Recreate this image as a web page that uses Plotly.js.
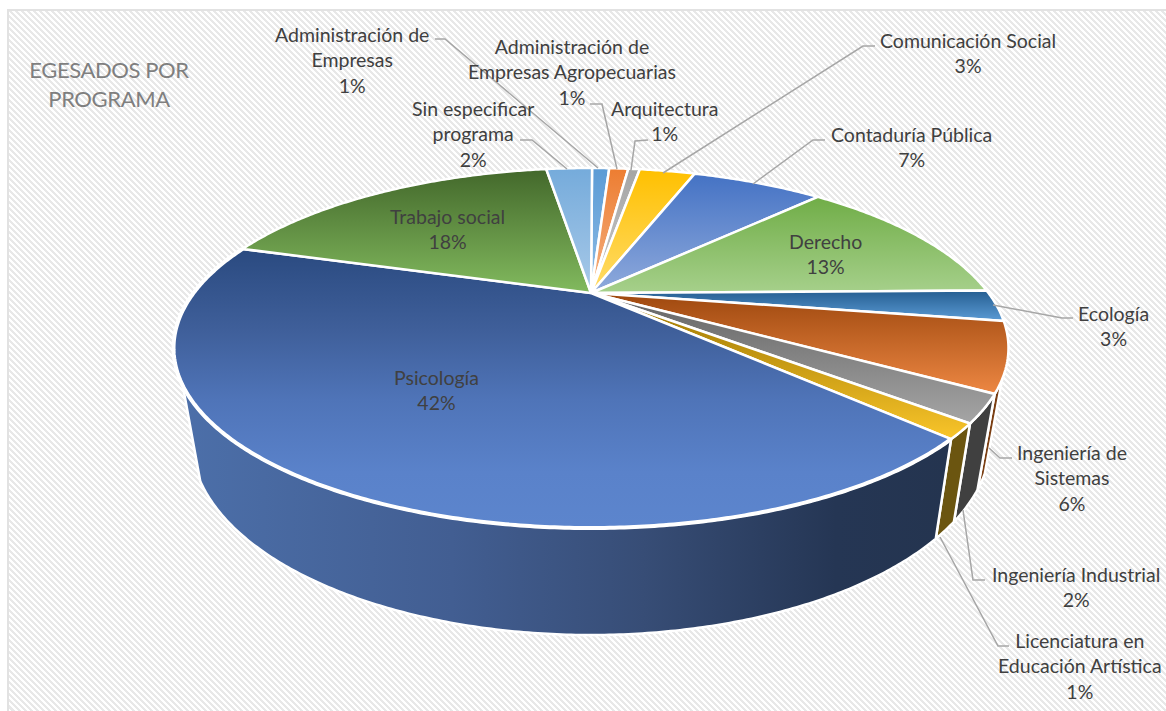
<!DOCTYPE html>
<html>
<head>
<meta charset="utf-8">
<script src="https://cdn.plot.ly/plotly-3.0.1.min.js"></script>
<style>
html,body{margin:0;padding:0;background:#fff;width:1166px;height:711px;overflow:hidden}
#frame{position:absolute;left:7px;top:9px;width:1159px;height:702px;border-left:2px solid #e2e2e2;border-top:2px solid #e2e2e2;box-sizing:border-box;
background:repeating-linear-gradient(45deg,#ffffff 0,#ffffff 2.121px,#e8e8e8 2.121px,#e8e8e8 4.243px)}
#chart{position:absolute;left:0;top:0;width:1166px;height:711px}
.gtitle{letter-spacing:-0.4px}
</style>
</head>
<body>
<div id="frame"></div>
<div id="chart"></div>
<script>
// ---- data (clockwise from the top of the pie) ----
const programas = ["Administración de<br>Empresas","Administración de<br>Empresas Agropecuarias","Arquitectura","Comunicación Social","Contaduría Pública","Derecho","Ecología","Ingeniería de<br>Sistemas","Ingeniería Industrial","Licenciatura en<br>Educación Artística","Psicología","Trabajo social","Sin especificar<br>programa"];
const porcentajes = [0.9,1.0,0.6,2.9,6.8,12.5,2.85,6.1,2.4,1.3,42.35,17.9,2.4];

// ---- style ----
const topFar  = ["#5b9bd5","#ed7d31","#a5a5a5","#ffc000","#4472c4","#70ad47","#255e91","#9e480e","#636363","#997300","#2a4a80","#43682b","#75abdb"];
const topNear = ["#8fbde6","#f4b183","#c9c9c9","#ffdc6a","#8faadc","#a6d08b","#5b9bd5","#ed8743","#a5a5a5","#f9c52a","#5c85cd","#82ba5e","#a8c9e8"];
const wallCol = ["#2e5f8e","#8a4a1c","#636363","#997300","#2a4478","#43682b","#255e91","#7a3e12","#404040","#6b5510","#24344f","#43682b","#5b9bd5"];
const wallScale = [[0,"#4c6fa9"],[0.35,"#425e92"],[0.6,"#374d76"],[0.85,"#253654"],[1,"#24344f"]];
const psicoScale = [[0,"#2a4a80"],[0.29,"#3f5f9a"],[0.54,"#4f74b8"],[0.8,"#5a82ca"],[1,"#5c85cd"]];
const labelX = [352,572,664,968,911,825,1113,1072,1076,1080,436,447,473];
const labelY = [60,72,121,53,147,254,326,478,587,666,390,229,134];
const leaders = [
 [[435,39],[445,39],[598,168]],
 [[590,104],[602,104],[617,169]],
 [[648,140],[635,141],[631,170]],
 [[875,46],[863,46],[663,173]],
 [[825,140],[813,140],[753,184]],
 [[1073,318],[1062,318],[993,305]],
 [[1012,458],[1000,458],[989,448]],
 [[985,580],[973,580],[963,510]],
 [[1009,646],[998,646],[940,537]],
 [[520,140],[532,140],[567,169]]
];

// ---- projection of the tilted disc: top rim (d=0) and bottom rim (d=1) ----
const startAngle = 89.8;
const apex = [591,293], K = 0.3056;
const rimTop = {A:397.5, B:163.2, Y0:0}, rimBottom = {A:380.6, B:150, Y0:-87.5};
const wallFrom = -27, wallTo = -151;   // silhouette of the cylinder
function pt(deg, d){
  const p = d ? rimBottom : rimTop;
  const t = deg*Math.PI/180, u = Math.cos(t), v = Math.sin(t), w = 1 + K*v;
  return [apex[0] + p.A*u/w, apex[1] - (p.Y0 + p.B*v)/w];
}
function arc(a0, a1, d){
  const n = Math.max(2, Math.ceil(Math.abs(a1-a0)/0.5)), out = [];
  for(let i=0;i<=n;i++) out.push(pt(a0+(a1-a0)*i/n, d));
  return out;
}
const total = porcentajes.reduce((s,v)=>s+v,0);
let acc = startAngle;
const spans = porcentajes.map(v=>{const a0=acc; acc-=v/total*360; return [a0,acc];});

function poly(points, extra){
  const xs = points.map(p=>p[0]).concat(points[0][0]);
  const ys = points.map(p=>p[1]).concat(points[0][1]);
  return Object.assign({type:"scatter",mode:"lines",x:xs,y:ys,fill:"toself",
    line:{color:"#ffffff",width:2.5,simplify:false},hoverinfo:"skip",showlegend:false},extra);
}
const traces = [];
const iPsico = programas.indexOf("Psicología");
// side walls of the slices that face the viewer
spans.forEach((s,i)=>{
  const a0 = Math.min(s[0],wallFrom), a1 = Math.max(s[1],wallTo);
  if(a0<=a1) return;
  const pts = arc(a0,a1,0).concat(arc(a1,a0,1));
  if(i===iPsico){
    const xs = pts.map(p=>p[0]);
    traces.push(poly(pts,{fillgradient:{type:"horizontal",colorscale:wallScale,start:Math.min(...xs),stop:Math.max(...xs)}}));
  } else {
    traces.push(poly(pts,{fillcolor:wallCol[i]}));
  }
});
// top faces
spans.forEach((s,i)=>{
  const pts = [apex].concat(arc(s[0],s[1],0));
  const ys = pts.map(p=>p[1]);
  const scale = i===iPsico ? psicoScale : [[0,topFar[i]],[1,topNear[i]]];
  traces.push(poly(pts,{fillgradient:{type:"vertical",colorscale:scale,start:Math.min(...ys),stop:Math.max(...ys)}}));
});
// thick white outer edge of the largest slice
const front = arc(spans[iPsico][0],spans[iPsico][1],0);
traces.push({type:"scatter",mode:"lines",x:front.map(p=>p[0]),y:front.map(p=>p[1]),
  line:{color:"#ffffff",width:4,simplify:false},hoverinfo:"skip",showlegend:false});

const annotations = programas.map((n,i)=>({
  xref:"x",yref:"y",x:labelX[i],y:labelY[i],xanchor:"center",yanchor:"middle",showarrow:false,align:"center",
  text:n+"<br>"+Math.round(porcentajes[i])+"%",
  font:{family:"Lato, Carlito, sans-serif",size:19.5,color:"#404040"}
}));
const shapes = leaders.map(l=>({type:"path",xref:"x",yref:"y",
  path:"M"+l.map(p=>p.join(",")).join("L"),line:{color:"#a6a6a6",width:1.5}}));

Plotly.newPlot("chart",traces,{
  width:1166,height:711,margin:{l:0,r:0,t:0,b:0},
  paper_bgcolor:"rgba(0,0,0,0)",plot_bgcolor:"rgba(0,0,0,0)",showlegend:false,
  title:{text:"EGESADOS POR<br>PROGRAMA",x:109/1166,xanchor:"center",y:1-78/711,yanchor:"middle",
    font:{family:"Lato, Carlito, sans-serif",size:22,color:"#7f7f7f"}},
  xaxis:{range:[0,1166],visible:false,fixedrange:true},
  yaxis:{range:[711,0],visible:false,fixedrange:true},
  annotations:annotations,shapes:shapes
},{displayModeBar:false,staticPlot:true});
</script>
</body>
</html>
